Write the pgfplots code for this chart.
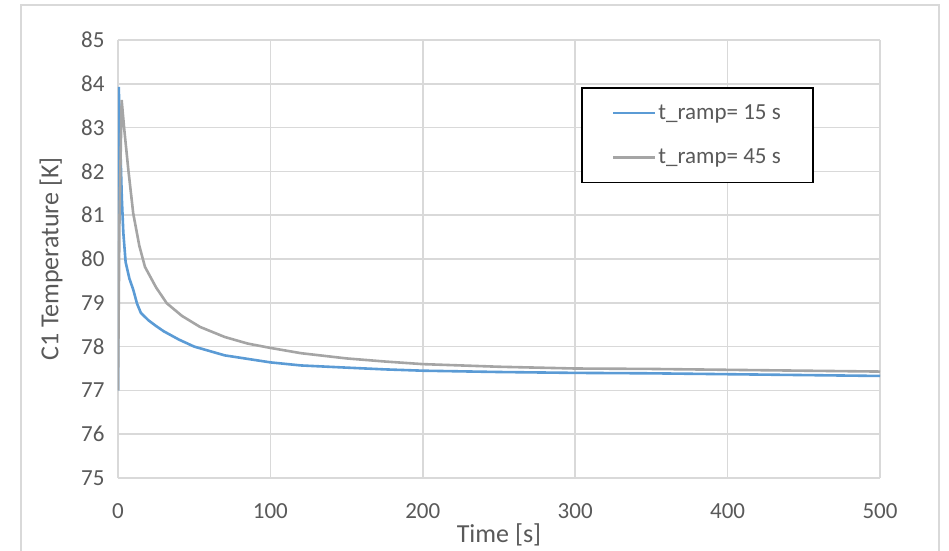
\documentclass[border=0pt]{standalone}
\usepackage{fontspec}
\setmainfont{Carlito}
\usepackage{pgfplots}
\pgfplotsset{compat=1.18}
\usetikzlibrary{calc}

\definecolor{xlblue}{RGB}{91,155,213}
\definecolor{xlgray}{RGB}{165,165,165}
\definecolor{gridgray}{RGB}{217,217,217}
\definecolor{txtgray}{RGB}{89,89,89}

\begin{document}
\begin{tikzpicture}[x=1pt,y=1pt]
\begin{axis}[
  scale only axis,
  width=762pt, height=438pt,
  xmin=0, xmax=500, ymin=75, ymax=85,
  xtick={0,100,...,500}, ytick={75,76,...,85},
  grid=major,
  major grid style={gridgray, line width=1.6pt},
  axis line style={draw=none},
  tick style={draw=none},
  ticklabel style={font=\fontsize{23}{27}\selectfont, text=txtgray},
  /pgf/number format/assume math mode=true,
  xticklabel style={yshift=-22pt},
  yticklabel style={xshift=-10pt},
  xlabel={Time [s]},
  ylabel={C1 Temperature [K]},
  label style={font=\fontsize{26}{31}\selectfont, text=txtgray},
  xlabel style={at={(axis description cs:0.5,-0.1301)}, anchor=center},
  ylabel style={at={(axis description cs:-0.0879,0.5)}, anchor=center},
  legend cell align=left,
  legend style={
    at={(0.6076,0.8927)}, anchor=north west,
    draw=black, line width=1.8pt,
    font=\fontsize{23}{27}\selectfont, text=txtgray,
    inner xsep=30pt, inner ysep=15pt,
    row sep=24pt,
  },
  legend image code/.code={\draw[#1, line width=2.6pt] (0pt,0pt) -- (42pt,0pt);},
]
\coordinate (o) at (rel axis cs:0,0);
\addplot[xlblue, line width=2.6pt] coordinates {
  (0,77.0) (0.5,83.93) (1.5,82.6) (2.5,81.4) (3.5,80.6) (5,79.93)
  (7.5,79.55) (10,79.3) (12.5,78.98) (15,78.77) (20,78.6) (25,78.47)
  (30,78.35) (40,78.16) (50,78.0) (60,77.9) (70,77.8) (85,77.72)
  (100,77.64) (120,77.57) (150,77.52) (175,77.48) (200,77.45)
  (250,77.42) (300,77.40) (350,77.39) (400,77.37) (450,77.35) (500,77.33)
};
\addlegendentry{t\_ramp= 15 s}
\addplot[xlgray, line width=2.6pt] coordinates {
  (0,77.0) (1,81.0) (2.4,83.63) (4,83.0) (6.8,82.03) (10,81.04)
  (14,80.3) (17.7,79.82) (25,79.35) (32,78.99) (42,78.7) (53.8,78.45)
  (70,78.22) (85,78.07) (100,77.97) (120,77.85) (150,77.73)
  (175,77.66) (200,77.6) (250,77.54) (300,77.5) (350,77.49)
  (400,77.47) (450,77.45) (500,77.43)
};
\addlegendentry{t\_ramp= 45 s}
\end{axis}
\useasboundingbox ($(o)+(-118pt,-72pt)$) rectangle ($(o)+(831pt,478pt)$);
\draw[gridgray, line width=1.5pt]
  ($(o)+(-97pt,-80pt)$) -- ($(o)+(-97pt,473pt)$)
  -- ($(o)+(821pt,473pt)$) -- ($(o)+(821pt,-80pt)$);
\end{tikzpicture}
\end{document}
